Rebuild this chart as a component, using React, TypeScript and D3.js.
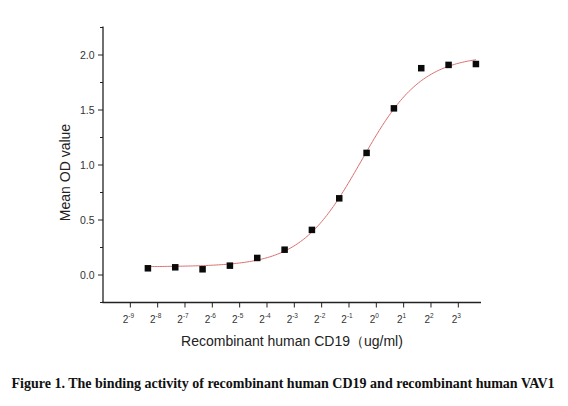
import React from "react";
import * as d3 from "d3";

// Concentrations (ug/ml): 12.5 / 2^k
const concentrations = [
  0.00305, 0.0061, 0.0122, 0.0244, 0.0488, 0.0977, 0.1953, 0.3906, 0.78125,
  1.5625, 3.125, 6.25, 12.5,
];
const odValues = [
  0.061, 0.07, 0.052, 0.085, 0.155, 0.23, 0.41, 0.697, 1.11, 1.515, 1.88, 1.91,
  1.918,
];
const xTickExponents = [-9, -8, -7, -6, -5, -4, -3, -2, -1, 0, 1, 2, 3];
const yTicks = [0, 0.5, 1.0, 1.5, 2.0];
const yMinorTicks = [-0.25, 0.25, 0.75, 1.25, 1.75, 2.25];

// 4-parameter logistic fit parameters
const FIT_BOTTOM = 0.075;
const FIT_TOP = 2.0;
const FIT_LOG2_EC50 = -0.55;
const FIT_HILL = 1.3;

const xTitle = "Recombinant human CD19（ug/ml)";
const yTitle = "Mean OD value";
const caption =
  "Figure 1. The binding activity of recombinant human CD19 and recombinant human VAV1";

const W = 568;
const H = 406;
const left = 103;
const right = 481;
const top = 27.5;
const bottom = 302.5;

const fit = (c: number) =>
  FIT_BOTTOM +
  (FIT_TOP - FIT_BOTTOM) /
    (1 + Math.pow(2, (FIT_LOG2_EC50 - Math.log2(c)) * FIT_HILL));

export default function App() {
  const x = d3
    .scaleLog()
    .base(2)
    .domain([Math.pow(2, -10), Math.pow(2, 3.83)])
    .range([left, right]);
  const y = d3.scaleLinear().domain([-0.25, 2.25]).range([bottom, top]);

  const c0 = concentrations[0];
  const c1 = concentrations[concentrations.length - 1];
  const fitPts: [number, number][] = d3.range(0, 201).map((i) => {
    const lc = Math.log2(c0) + ((Math.log2(c1) - Math.log2(c0)) * i) / 200;
    const c = Math.pow(2, lc);
    return [c, fit(c)];
  });
  const line = d3
    .line<[number, number]>()
    .x((d) => x(d[0]))
    .y((d) => y(d[1]));

  const axisColor = "#222";
  const sq = 6.5;

  return (
    <svg
      width={W}
      height={H}
      style={{ position: "absolute", left: 0, top: 0, background: "#fff" }}
      fontFamily="Arial, 'Liberation Sans', sans-serif"
    >
      <rect x={0} y={0} width={W} height={H} fill="#fff" />
      {/* axes */}
      <line x1={left} y1={top - 1} x2={left} y2={bottom} stroke={axisColor} strokeWidth={1.3} />
      <line x1={left - 0.6} y1={bottom} x2={right} y2={bottom} stroke={axisColor} strokeWidth={1.3} />
      {/* y ticks */}
      {yTicks.map((t) => (
        <g key={"y" + t}>
          <line x1={left - 5} x2={left} y1={y(t)} y2={y(t)} stroke={axisColor} strokeWidth={1} />
          <text
            x={left - 8.5}
            y={y(t)}
            dy="0.35em"
            textAnchor="end"
            fontSize={10.5}
            fill="#333"
          >
            {t.toFixed(1)}
          </text>
        </g>
      ))}
      {yMinorTicks.map((t) => (
        <line key={"ym" + t} x1={left - 3} x2={left} y1={y(t)} y2={y(t)} stroke={axisColor} strokeWidth={1} />
      ))}
      {/* x ticks */}
      {xTickExponents.map((e) => {
        const px = x(Math.pow(2, e));
        return (
          <g key={"x" + e}>
            <line x1={px} x2={px} y1={bottom} y2={bottom + 5} stroke={axisColor} strokeWidth={1} />
            <text x={px - 2} y={bottom + 20} textAnchor="middle" fontSize={10} fill="#333">
              2
              <tspan fontSize={6.5} dy={-5}>
                {String(e)}
              </tspan>
            </text>
          </g>
        );
      })}
      {/* fit curve */}
      <path d={line(fitPts) || ""} fill="none" stroke="#dd6f6f" strokeWidth={1} />
      {/* points */}
      {concentrations.map((c, i) => (
        <rect
          key={"p" + i}
          x={x(c) - sq / 2}
          y={y(odValues[i]) - sq / 2}
          width={sq}
          height={sq}
          fill="#0a0a0a"
        />
      ))}
      {/* titles */}
      <text x={(left + right) / 2} y={346} textAnchor="middle" fontSize={14} fill="#222">
        {xTitle}
      </text>
      <text
        transform={`translate(70,172.5) rotate(-90)`}
        textAnchor="middle"
        fontSize={14}
        fill="#222"
      >
        {yTitle}
      </text>
      <text
        x={11.5}
        y={387.5}
        fontFamily="'Times New Roman', 'Liberation Serif', serif"
        fontWeight="bold"
        fontSize={14}
        fill="#111"
      >
        {caption}
      </text>
    </svg>
  );
}
